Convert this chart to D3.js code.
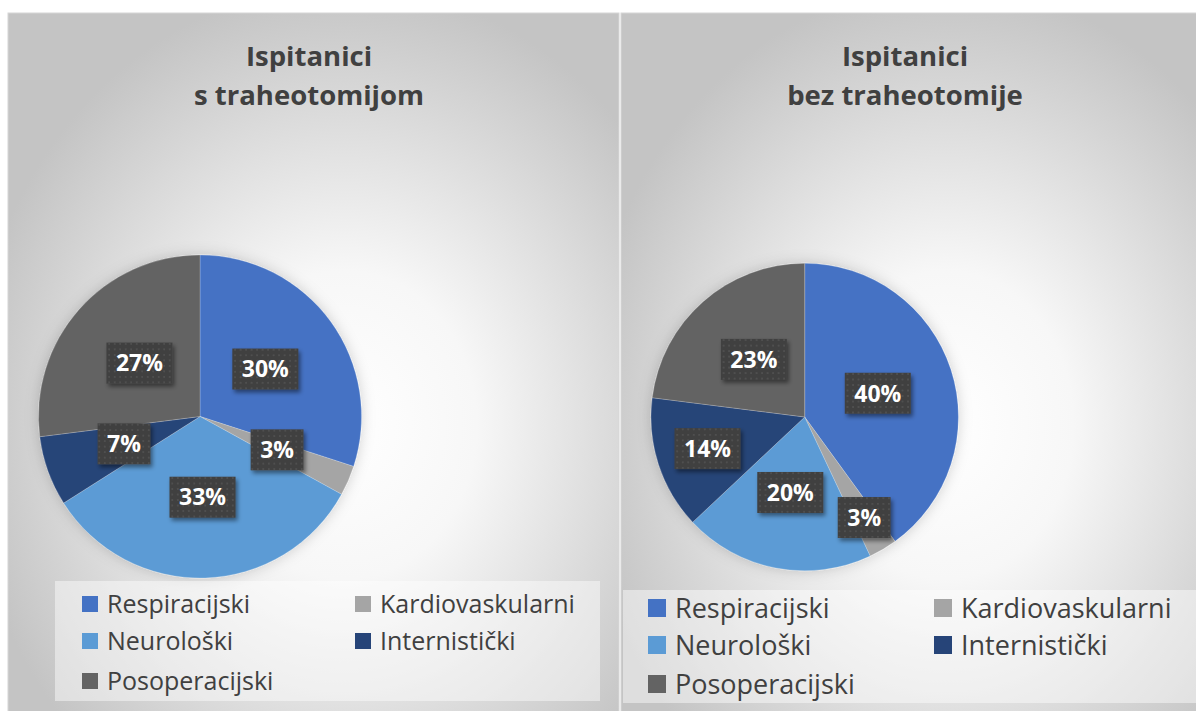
<!DOCTYPE html>
<html>
<head>
<meta charset="utf-8">
<script src="https://cdn.jsdelivr.net/npm/d3@7"></script>
<style>
  html, body { margin: 0; padding: 0; background: #ffffff; }
  svg { display: block; font-family: "Open Sans", sans-serif; }
</style>
</head>
<body>
<div id="chart"></div>
<script>
// Kategorije i vrijednosti (u postocima)
const categories = ["Respiracijski", "Kardiovaskularni", "Neurološki", "Internistički", "Posoperacijski"];
const colors = ["#4472C4", "#A5A5A5", "#5B9BD5", "#264478", "#636363"];
const valuesWith = [30, 3, 33, 7, 27];
const valuesWithout = [40, 3, 20, 14, 23];
const titleWith = ["Ispitanici", "s traheotomijom"];
const titleWithout = ["Ispitanici", "bez traheotomije"];

const width = 1196, height = 711;

// Raspored panela
const panels = [
  {
    id: "a", values: valuesWith, title: titleWith,
    x: 8, y: 13, w: 611, h: 710,
    cx: 200, cy: 416.5, r: 161.5, titleX: 309,
    labelR: [0.5, 0.52, 0.5, 0.5, 0.5],
    legend: { x: 55, y: 581, w: 545, h: 120, cols: [82, 355], gap: 25, rows: [604, 641, 681], font: 25, sq: 16 }
  },
  {
    id: "b", values: valuesWithout, title: titleWithout,
    x: 621, y: 13, w: 590, h: 710,
    cx: 804.7, cy: 417, r: 153.7, titleX: 905,
    labelR: [0.5, 0.76, 0.5, 0.665, 0.5],
    legend: { x: 623, y: 590, w: 590, h: 113, cols: [648, 934], gap: 27, rows: [608, 645, 684], font: 27, sq: 18 }
  }
];

const svg = d3.select("#chart").append("svg")
  .attr("width", width)
  .attr("height", height);

const defs = svg.append("defs");

// Radijalni gradijent pozadine
const grad = defs.append("radialGradient")
  .attr("id", "bg")
  .attr("cx", "55%").attr("cy", "58%").attr("r", "62%");
grad.append("stop").attr("offset", "0%").attr("stop-color", "#ffffff");
grad.append("stop").attr("offset", "35%").attr("stop-color", "#f7f7f7");
grad.append("stop").attr("offset", "100%").attr("stop-color", "#c4c4c4");

// Točkasti uzorak za oznake
const pat = defs.append("pattern")
  .attr("id", "dots")
  .attr("patternUnits", "userSpaceOnUse")
  .attr("width", 5.5).attr("height", 5.5);
pat.append("rect").attr("width", 5.5).attr("height", 5.5).attr("fill", "#404040");
pat.append("rect").attr("x", 2).attr("y", 2).attr("width", 1.5).attr("height", 1.5).attr("fill", "#585858");

// Sjene
const sh = defs.append("filter").attr("id", "boxShadow")
  .attr("x", "-30%").attr("y", "-30%").attr("width", "160%").attr("height", "170%");
sh.append("feDropShadow")
  .attr("dx", 2).attr("dy", 3).attr("stdDeviation", 2)
  .attr("flood-color", "#000").attr("flood-opacity", 0.45);

const pieSh = defs.append("filter").attr("id", "pieShadow")
  .attr("x", "-20%").attr("y", "-20%").attr("width", "140%").attr("height", "140%");
pieSh.append("feDropShadow")
  .attr("dx", 0).attr("dy", 0).attr("stdDeviation", 7)
  .attr("flood-color", "#000").attr("flood-opacity", 0.18);

const pie = d3.pie().sort(null).value(d => d);

panels.forEach(p => {
  const g = svg.append("g");

  // Pozadina panela
  g.append("rect")
    .attr("x", p.x).attr("y", p.y)
    .attr("width", p.w).attr("height", p.h)
    .attr("fill", "url(#bg)")
    .attr("stroke", "#d6d6d6")
    .attr("stroke-width", 1);

  // Naslov
  g.append("text")
    .attr("x", p.titleX)
    .attr("text-anchor", "middle")
    .attr("fill", "#404040")
    .style("font-size", "27.5px")
    .style("font-weight", "bold")
    .selectAll("tspan")
    .data(p.title)
    .enter()
    .append("tspan")
    .attr("x", p.titleX)
    .attr("y", (d, i) => 66 + i * 38.5)
    .text(d => d);

  // Pita
  const arcs = pie(p.values);
  const arc = d3.arc().innerRadius(0).outerRadius(p.r);

  const pieG = g.append("g")
    .attr("transform", `translate(${p.cx},${p.cy})`);

  pieG.append("g")
    .attr("filter", "url(#pieShadow)")
    .selectAll("path")
    .data(arcs)
    .enter()
    .append("path")
    .attr("d", arc)
    .attr("fill", (d, i) => colors[i])
    .attr("stroke", "rgba(255,255,255,0.35)")
    .attr("stroke-width", 0.6);

  // Oznake postotaka
  const labels = pieG.selectAll(".lbl")
    .data(arcs)
    .enter()
    .append("g")
    .attr("class", "lbl")
    .attr("transform", (d, i) => {
      const rl = p.r * p.labelR[i];
      const c = d3.arc().innerRadius(rl).outerRadius(rl).centroid(d);
      return `translate(${c[0]},${c[1]})`;
    });

  const box = labels.append("rect")
    .attr("fill", "url(#dots)")
    .attr("filter", "url(#boxShadow)");

  const txt = labels.append("text")
    .attr("text-anchor", "middle")
    .attr("dy", "0.36em")
    .attr("fill", "#ffffff")
    .style("font-size", "23px")
    .style("font-weight", "bold")
    .text(d => d.data + "%");

  txt.each(function(d, i) {
    const w = this.getComputedTextLength() + 19;
    d3.select(box.nodes()[i])
      .attr("x", -w / 2).attr("y", -20.5)
      .attr("width", w).attr("height", 41);
  });

  // Legenda
  const L = p.legend;
  g.append("rect")
    .attr("x", L.x).attr("y", L.y)
    .attr("width", L.w).attr("height", L.h)
    .attr("fill", "#ffffff")
    .attr("fill-opacity", 0.45);

  const items = g.selectAll(".leg")
    .data(categories)
    .enter()
    .append("g")
    .attr("class", "leg")
    .attr("transform", (d, i) => `translate(${L.cols[i % 2]},${L.rows[Math.floor(i / 2)]})`);

  items.append("rect")
    .attr("x", 0).attr("y", -L.sq / 2)
    .attr("width", L.sq).attr("height", L.sq)
    .attr("fill", (d, i) => colors[i]);

  items.append("text")
    .attr("x", L.gap)
    .attr("dy", "0.36em")
    .attr("fill", "#404040")
    .style("font-size", L.font + "px")
    .text(d => d);
});
</script>
</body>
</html>
